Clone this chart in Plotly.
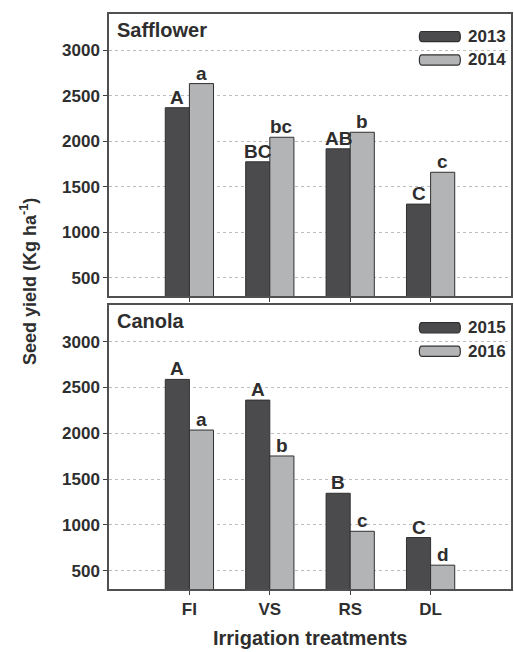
import plotly.graph_objects as go

treatments = ["FI", "VS", "RS", "DL"]

safflower_years = ["2013", "2014"]
safflower_2013 = [2370, 1775, 1918, 1310]
safflower_2014 = [2635, 2045, 2100, 1660]
safflower_letters_2013 = ["A", "BC", "AB", "C"]
safflower_letters_2014 = ["a", "bc", "b", "c"]

canola_years = ["2015", "2016"]
canola_2015 = [2588, 2362, 1345, 862]
canola_2016 = [2035, 1752, 930, 560]
canola_letters_2015 = ["A", "A", "B", "C"]
canola_letters_2016 = ["a", "b", "c", "d"]

y_ticks = [500, 1000, 1500, 2000, 2500, 3000]

DARK = "#4b4b4d"
LIGHT = "#b3b4b6"
EDGE = "#303030"
TXT = "#2e2e2e"
FONT = "Liberation Sans, Arial, sans-serif"

xs = list(range(len(treatments)))
fig = go.Figure()

panels = [
    ("x", "y", "Safflower", safflower_years, safflower_2013, safflower_2014,
     safflower_letters_2013, safflower_letters_2014),
    ("x2", "y2", "Canola", canola_years, canola_2015, canola_2016,
     canola_letters_2015, canola_letters_2016),
]

annotations = []
shapes = []
for xa, ya, crop, years, v1, v2, l1, l2 in panels:
    for vals, col, name, grp in [(v1, DARK, years[0], "a"), (v2, LIGHT, years[1], "b")]:
        fig.add_trace(go.Bar(
            x=xs, y=vals, name=name, offsetgroup=grp,
            marker=dict(color=col, line=dict(color=EDGE, width=1)),
            xaxis=xa, yaxis=ya, showlegend=False,
        ))
    # significance letters above each bar
    for i in xs:
        for vals, letters, off in [(v1, l1, -0.15), (v2, l2, 0.15)]:
            annotations.append(dict(
                x=i + off, y=vals[i], xref=xa, yref=ya, text=letters[i],
                showarrow=False, yanchor="bottom", yshift=-2,
                font=dict(family=FONT, size=19, color=TXT, weight="bold"),
            ))
    # panel title
    annotations.append(dict(
        x=0.014, y=0.99, xref=f"{xa} domain", yref=f"{ya} domain",
        text=crop, showarrow=False, xanchor="left", yanchor="top",
        font=dict(family=FONT, size=20, color=TXT, weight="bold"),
    ))
    # legend: rounded swatches with year labels
    for k, (yr, col) in enumerate(zip(years, [DARK, LIGHT])):
        yc = 0.92 - k * 0.083
        x0, x1, h = 0.772, 0.874, 0.018
        r = 0.006
        path = (f"M {x0+r},{yc-h} L {x1-r},{yc-h} Q {x1},{yc-h} {x1},{yc} "
                f"Q {x1},{yc+h} {x1-r},{yc+h} L {x0+r},{yc+h} Q {x0},{yc+h} {x0},{yc} "
                f"Q {x0},{yc-h} {x0+r},{yc-h} Z")
        shapes.append(dict(
            type="path", path=path, xref=f"{xa} domain", yref=f"{ya} domain",
            fillcolor=col, line=dict(color=EDGE, width=1.2),
        ))
        annotations.append(dict(
            x=0.887, y=yc, xref=f"{xa} domain", yref=f"{ya} domain",
            text=yr, showarrow=False, xanchor="left", yanchor="middle",
            font=dict(family=FONT, size=17, color=TXT, weight="bold"),
        ))

annotations.append(dict(
    x=-0.2, y=0.535, xref="paper", yref="paper",
    text="Seed yield (Kg ha<sup>-1</sup>)", textangle=-90, showarrow=False,
    xanchor="center", yanchor="middle",
    font=dict(family=FONT, size=18, color=TXT, weight="bold"),
))
annotations.append(dict(
    x=0.5, y=-0.085, xref="paper", yref="paper",
    text="Irrigation treatments", showarrow=False,
    xanchor="center", yanchor="middle",
    font=dict(family=FONT, size=20, color=TXT, weight="bold"),
))

axis_common = dict(
    showline=True, linecolor="#505050", linewidth=1.5, mirror=True,
    ticks="outside", ticklen=4, tickcolor="#404040", tickwidth=1.2,
    zeroline=False,
    tickfont=dict(family=FONT, size=17, color=TXT, weight="bold"),
)
yaxis_common = dict(
    axis_common, range=[300, 3400], tickvals=y_ticks,
    showgrid=True, gridcolor="#bdbdbd", griddash="dot", gridwidth=1,
)
xaxis_common = dict(
    axis_common, range=[-1, 4], tickvals=xs, ticktext=treatments, showgrid=False,
)

fig.update_layout(
    width=514, height=652,
    margin=dict(l=109, r=1, t=14, b=63),
    paper_bgcolor="white", plot_bgcolor="white",
    barmode="group", bargap=0.4, bargroupgap=0,
    showlegend=False,
    xaxis=dict(xaxis_common, anchor="y", showticklabels=False),
    yaxis=dict(yaxis_common, domain=[0.5096, 1.0], anchor="x"),
    xaxis2=dict(xaxis_common, anchor="y2"),
    yaxis2=dict(yaxis_common, domain=[0.0, 0.4939], anchor="x2"),
    annotations=annotations,
    shapes=shapes,
)

fig.write_html("out.html")
